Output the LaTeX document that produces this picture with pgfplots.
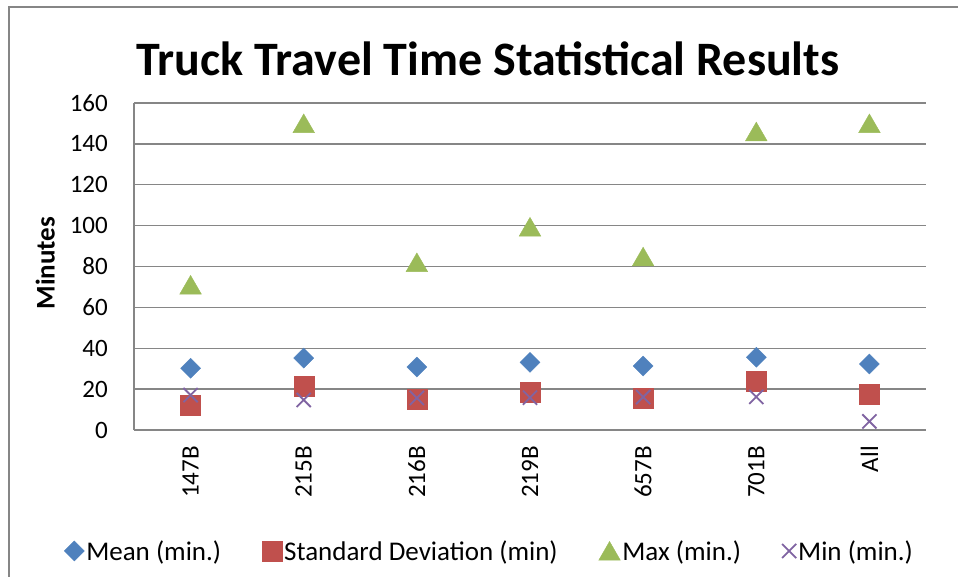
\documentclass[border=0pt]{standalone}
\usepackage{fontspec}
\setmainfont{Carlito}
\usepackage{pgfplots}
\pgfplotsset{compat=1.18}
\definecolor{cMean}{HTML}{4F81BD}
\definecolor{cSD}{HTML}{C0504D}
\definecolor{cMax}{HTML}{9BBB59}
\definecolor{cMin}{HTML}{8064A2}
\definecolor{gridc}{RGB}{134,134,134}
\begin{document}
\begin{tikzpicture}
\path[use as bounding box] (0,0) rectangle (958pt,576pt);
\draw[color=gridc, line width=1.5pt] (9pt,-10pt) -- (9pt,569pt) -- (975pt,569pt);
\node[font=\fontsize{48}{48}\selectfont\bfseries] at (488pt,517pt) {Truck Travel Time Statistical Results};
\begin{axis}[
  at={(134pt,146pt)}, anchor=south west,
  scale only axis, width=792pt, height=327pt,
  xmin=-0.5, xmax=6.5, ymin=0, ymax=160,
  xtick={0,1,2,3,4,5,6},
  xticklabels={147B,215B,216B,219B,657B,701B,All},
  ytick={0,20,...,160},
  axis x line*=bottom, axis y line*=left,
  axis line style={draw=gridc, line width=1.5pt},
  ymajorgrids, grid style={draw=gridc, line width=1.5pt},
  major tick length=0pt,
  tick label style={font=\fontsize{25}{25}\selectfont},
  /pgf/number format/assume math mode=true,
  xticklabel style={rotate=90, anchor=east, inner sep=0pt},
  xticklabel shift=16pt,
  yticklabel style={inner sep=0pt},
  yticklabel shift=26pt,
  ylabel={\bfseries Minutes},
  ylabel style={font=\fontsize{27}{27}\selectfont, at={(axis description cs:-0.112,0.51)}, anchor=center},
  legend style={draw=none, fill=none, at={(0.449,-0.37)}, anchor=center,
    font=\fontsize{27}{27}\selectfont,
    /tikz/every even column/.append style={column sep=39pt}},
  legend columns=4, legend cell align=left,
]
\addplot[only marks, mark=square*, mark size=7.07pt, color=cMean, mark options={rotate=45}]
  coordinates {(0,30.2) (1,35.2) (2,30.8) (3,33.1) (4,31.3) (5,35.6) (6,32.3)};
\addlegendentry{Mean (min.)}
\addplot[only marks, mark=square*, mark size=10pt, color=cSD]
  coordinates {(0,12.2) (1,21.2) (2,15.3) (3,18.4) (4,15.5) (5,24.0) (6,17.6)};
\addlegendentry{Standard Deviation (min)}
\addplot[only marks, mark=triangle*, mark size=12.5pt, color=cMax, mark options={yshift=-3pt}]
  coordinates {(0,71) (1,150) (2,82) (3,99.4) (4,84.8) (5,146) (6,150)};
\addlegendentry{Max (min.)}
\addplot[only marks, mark=x, mark size=10pt, color=cMin, line width=1.8pt]
  coordinates {(0,17.1) (1,14.7) (2,15.7) (3,15.8) (4,16.1) (5,16.2) (6,4.2)};
\addlegendentry{Min (min.)}
\end{axis}
\end{tikzpicture}
\end{document}
